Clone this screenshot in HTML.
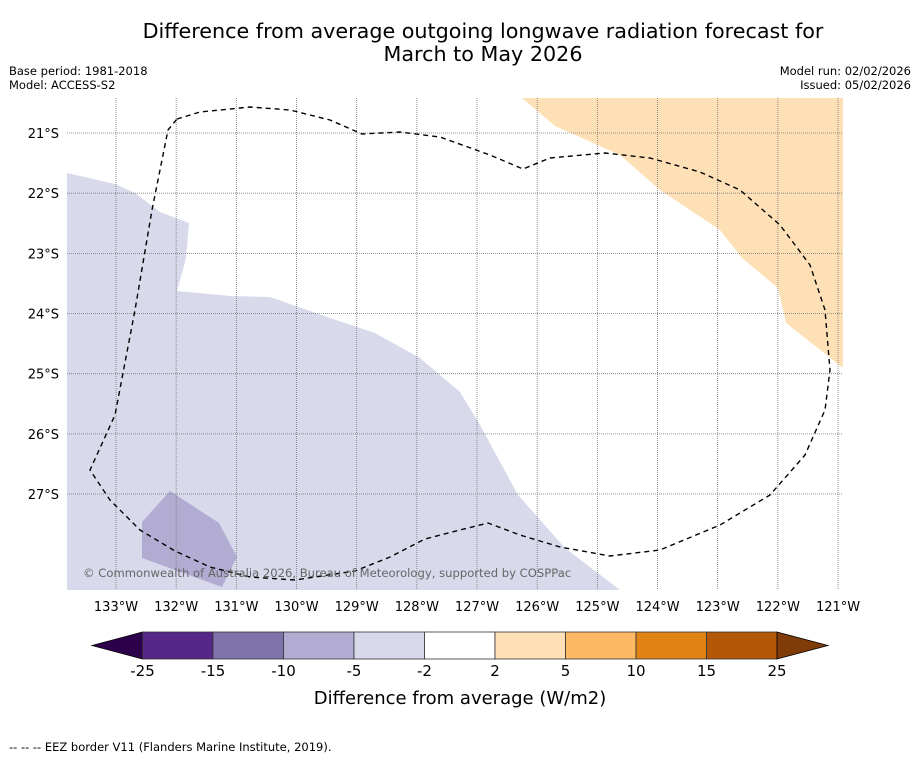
<!DOCTYPE html>
<html><head><meta charset="utf-8"><style>
body{margin:0;background:#fff;font-family:"DejaVu Sans","Liberation Sans",sans-serif;}
svg text{font-family:"DejaVu Sans","Liberation Sans",sans-serif;}
</style></head><body>
<svg id="chart" width="919" height="758" xmlns="http://www.w3.org/2000/svg">
<rect width="919" height="758" fill="#fff"/>
<text x="483" y="38" font-size="20.7" text-anchor="middle">Difference from average outgoing longwave radiation forecast for</text>
<text x="483" y="61" font-size="20.7" text-anchor="middle">March to May 2026</text>
<text x="9" y="75" font-size="11.5">Base period: 1981-2018</text>
<text x="9" y="89" font-size="11.5">Model: ACCESS-S2</text>
<text x="911" y="75" font-size="11.5" text-anchor="end">Model run: 02/02/2026</text>
<text x="911" y="89" font-size="11.5" text-anchor="end">Issued: 05/02/2026</text>
<defs><clipPath id="mapclip"><rect x="67" y="98" width="776" height="492"/></clipPath></defs>
<g clip-path="url(#mapclip)">
<polygon fill="#d8daeb" points="67,173 115,184 135,193 160,212 189,223 186,258 177,291 230,296 270,297 330,318 375,333 420,358 460,392 480,425 518,495 565,548 620,590 67,590"/>
<polygon fill="#b2abd2" points="142,522 170,491 219,523 237,557 222,587 142,558"/>
<polygon fill="#fee0b6" points="522,98 555,126 620,155 660,190 720,230 742,258 778,288 786,323 843,368 843,98"/>
<g id="grid"></g>
<polyline fill="none" stroke="#000" stroke-width="1.4" stroke-dasharray="5,4" stroke-linejoin="round" points="177,119 200,112 250,107 290,110 330,120 362,134 400,132 440,137 490,155 523,169 550,158 605,153 650,158 700,172 740,190 780,225 810,265 825,310 830,370 825,410 805,455 770,495 720,525 660,550 610,556 560,547 520,535 488,523 460,530 425,539 390,557 355,571 295,580 250,577 210,567 175,551 140,530 110,500 90,470 115,415 135,310 152,210 168,130 177,119"/>
</g>
<text x="83" y="577" font-size="11.6" fill="#666">© Commonwealth of Australia 2026, Bureau of Meteorology, supported by COSPPac</text>
<g id="axes"></g>
<g id="cbar"></g>
<text x="460" y="704" font-size="18" text-anchor="middle">Difference from average (W/m2)</text>
<text x="9" y="751" font-size="11.5">--  --  -- EEZ border V11 (Flanders Marine Institute, 2019).</text>
</svg>
<script>
const lons=[133,132,131,130,129,128,127,126,125,124,123,122,121];
const lats=[21,22,23,24,25,26,27];
const cbTicks=["-25","-15","-10","-5","-2","2","5","10","15","25"];
const cbColors=["#542788","#8073ac","#b2abd2","#d8daeb","#ffffff","#fee0b6","#fdb863","#e08214","#b35806"];
const ns="http://www.w3.org/2000/svg";
const xLon=l=>116+(133-l)*60.17;
const yLat=l=>133+(l-21)*60.17;
const grid=document.getElementById('grid'),axes=document.getElementById('axes'),cb=document.getElementById('cbar');
function mk(tag,at,p){const e=document.createElementNS(ns,tag);for(const k in at)e.setAttribute(k,at[k]);p.appendChild(e);return e;}
lons.forEach(l=>{const x=xLon(l);
const ln=mk('line',{x1:x,x2:x,y1:98,y2:590,stroke:'#777','stroke-width':0.8,'stroke-dasharray':'1,1'},grid);


const t=mk('text',{x:x,y:611,'font-size':13,'text-anchor':'middle'},axes);t.textContent=l+'°W';

});
lats.forEach(l=>{const y=yLat(l);
const ln=mk('line',{x1:67,x2:843,y1:y,y2:y,stroke:'#777','stroke-width':0.8,'stroke-dasharray':'1,1'},grid);


const t=mk('text',{x:59,y:y+5,'font-size':13,'text-anchor':'end'},axes);t.textContent=l+'°S';

});
const cx0=142.5,cw=70.5,cy=632,ch=27;
const lt=mk('polygon',{points:`${cx0},${cy} ${cx0},${cy+ch} 92,${cy+ch/2}`,fill:'#2d004b',stroke:'#000','stroke-width':0.8},cb);


cbColors.forEach((c,i)=>{const r=mk('rect',{x:cx0+i*cw,y:cy,width:cw,height:ch,fill:c,stroke:'#333','stroke-width':0.8},cb);

});
const xe=cx0+cbColors.length*cw;
const rt=mk('polygon',{points:`${xe},${cy} ${xe},${cy+ch} 828,${cy+ch/2}`,fill:'#7f3b08',stroke:'#000','stroke-width':0.8},cb);


cbTicks.forEach((s,i)=>{const t=mk('text',{x:cx0+i*cw,y:676,'font-size':15,'text-anchor':'middle'},cb);t.textContent=s;

});
</script>
</body></html>
